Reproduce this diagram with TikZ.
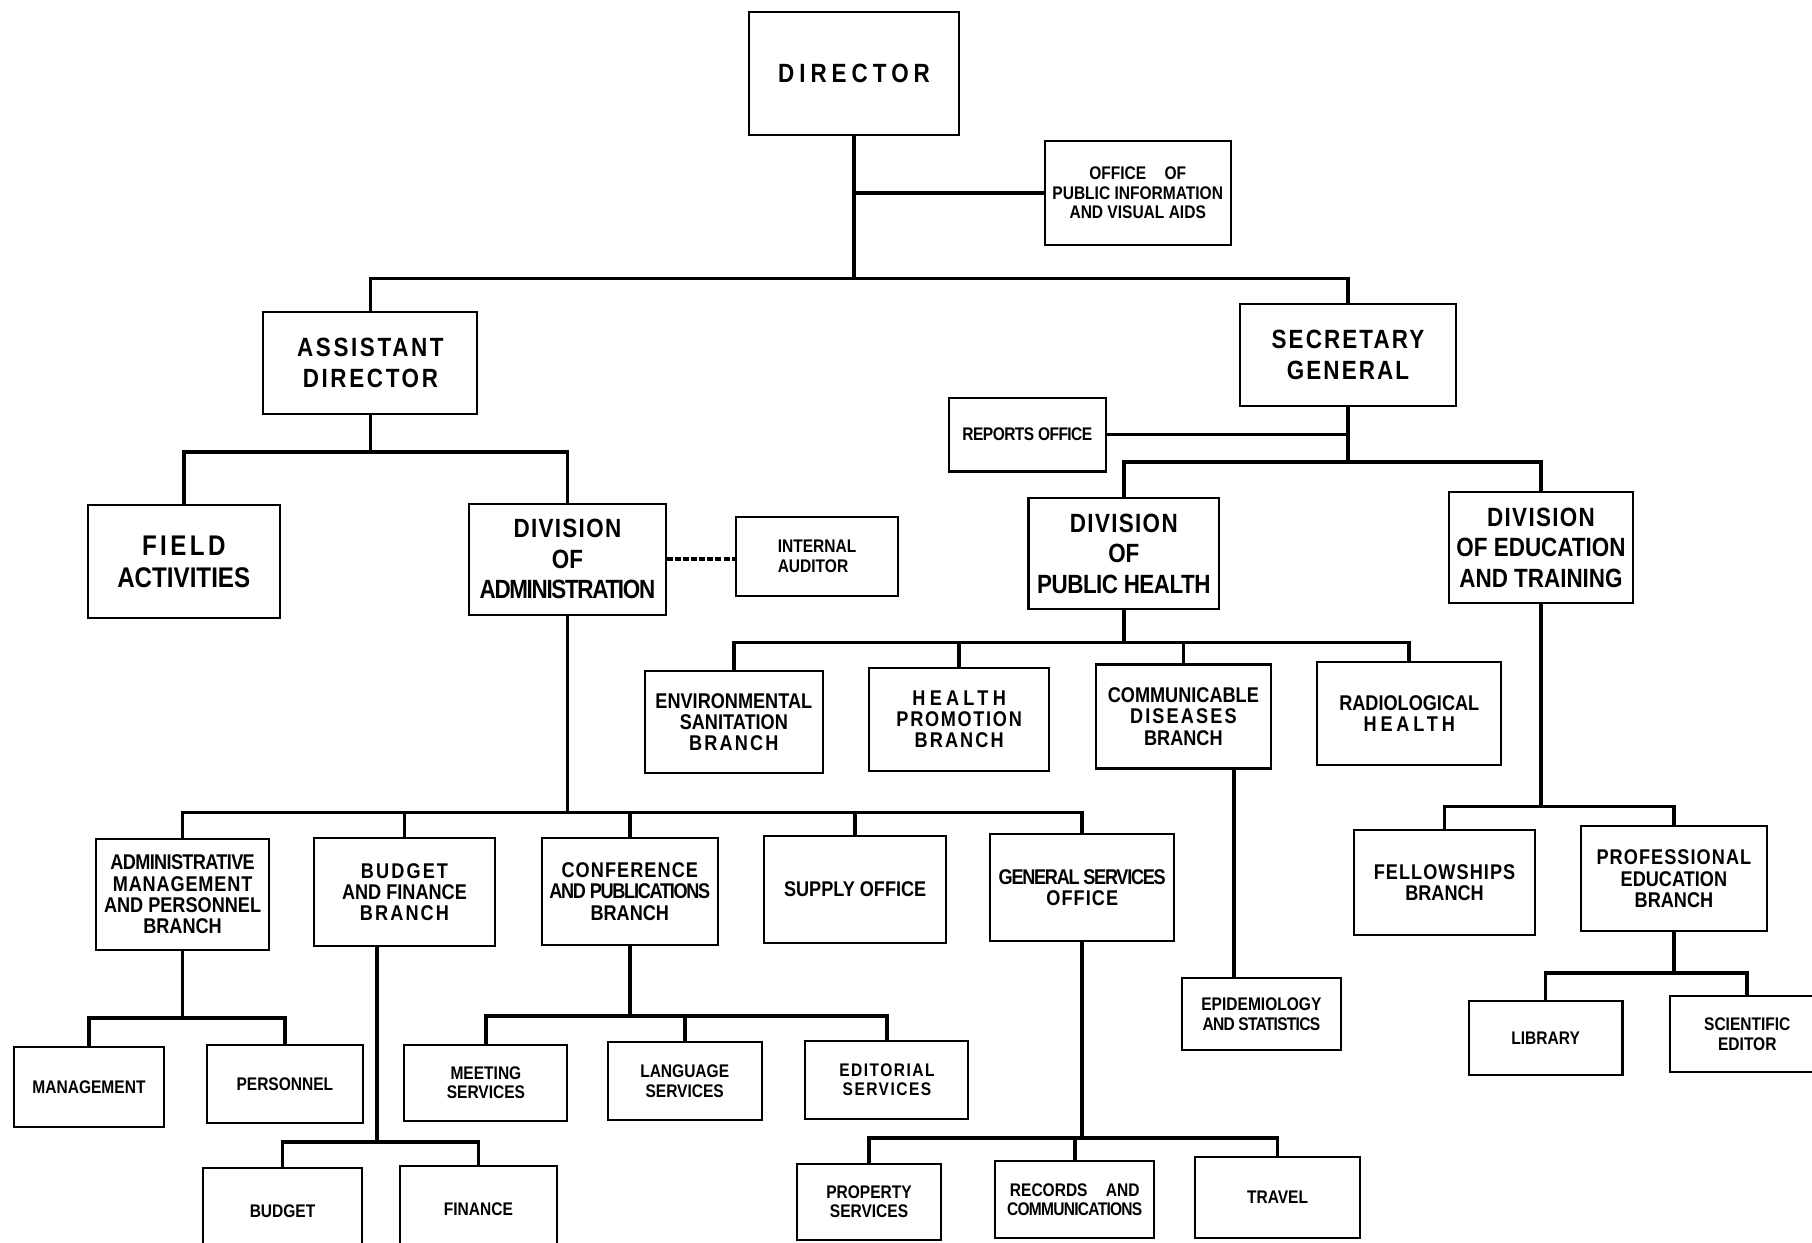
\documentclass[tikz,border=0pt]{standalone}
\usepackage{fontspec}
\newfontfamily\orgfont[FakeStretch=0.85]{Liberation Sans}
\newcommand\bigtxt{\orgfont\bfseries\fontsize{13}{15}\selectfont}
\newcommand\fatxt{\orgfont\bfseries\fontsize{14}{16}\selectfont}
\newcommand\midtxt{\orgfont\bfseries\fontsize{10.5}{10.5}\selectfont}
\newcommand\smalltxt{\orgfont\bfseries\fontsize{9}{9.6}\selectfont}
\newcommand\spc[2][10]{{\addfontfeature{LetterSpace=#1}#2}}
\tikzset{
  box/.style 2 args={draw, line width=1pt, inner sep=0pt, align=center,
    minimum width=#1*0.02cm, minimum height=#2*0.02cm},
  conn/.style={line width=1.8pt}
}
\begin{document}
\begin{tikzpicture}[x=0.02cm,y=-0.02cm]
\useasboundingbox (0,0) rectangle (1568,1075);
\clip (0,0) rectangle (1568,1075);
\node[box={182}{107},font=\bigtxt] (dir) at (739,63.5) {\spc[19]{DIRECTOR}};
\node[box={161}{90},font=\smalltxt,text depth=0pt] (opi) at (984.5,167) {OFFICE\quad OF\\PUBLIC INFORMATION\\AND VISUAL AIDS};
\node[box={185}{88},font=\bigtxt] (ad) at (320.5,314) {\spc{ASSISTANT}\\\spc{DIRECTOR}};
\node[box={187}{88},font=\bigtxt] (sg) at (1166.5,307) {\spc[8]{SECRETARY}\\\spc[8]{GENERAL}};
\node[box={166}{98},font=\fatxt] (fa) at (159,486) {\spc[12]{FIELD}\\ACTIVITIES};
\node[box={170}{96},font=\bigtxt] (da) at (491,484) {\spc[5]{DIVISION}\\OF\\\spc[-5]{ADMINISTRATION}};
\node[box={140}{69},font=\smalltxt,align=left] (ia) at (707,481.5) {INTERNAL\\AUDITOR};
\node[box={136}{64},font=\smalltxt] (ro) at (889,376) {\spc[-3]{REPORTS OFFICE}};
\node[box={165}{96},font=\bigtxt] (dph) at (972.5,479) {\spc[5]{DIVISION}\\OF\\\spc[-2]{PUBLIC HEALTH}};
\node[box={159}{96},font=\bigtxt] (det) at (1333.5,474) {\spc[5]{DIVISION}\\OF EDUCATION\\AND TRAINING};
\node[box={154}{88},font=\midtxt] (es) at (635,625) {ENVIRONMENTAL\\SANITATION\\\spc{BRANCH}};
\node[box={156}{89},font=\midtxt] (hp) at (830,622.5) {\spc[20]{HEALTH}\\\spc[8]{PROMOTION}\\\spc{BRANCH}};
\node[box={152}{90},font=\midtxt] (cd) at (1024,620) {COMMUNICABLE\\\spc{DISEASES}\\BRANCH};
\node[box={159}{89},font=\midtxt] (rh) at (1219.5,617.5) {RADIOLOGICAL\\\spc[18]{HEALTH}};
\node[box={137}{63},font=\smalltxt] (epi) at (1091.5,877.5) {EPIDEMIOLOGY\\\spc[-4]{AND STATISTICS}};
\node[box={156}{91},font=\midtxt] (fb) at (1250,763.5) {\spc[5]{FELLOWSHIPS}\\BRANCH};
\node[box={161}{91},font=\midtxt] (pe) at (1448.5,760.5) {\spc[5]{PROFESSIONAL}\\EDUCATION\\BRANCH};
\node[box={133}{64},font=\smalltxt] (lib) at (1337.5,898) {LIBRARY};
\node[box={134}{66},font=\smalltxt] (se) at (1512,895) {SCIENTIFIC\\EDITOR};
\node[box={150}{96},font=\midtxt] (am) at (158,774) {\spc[-3]{ADMINISTRATIVE}\\\spc[4]{MANAGEMENT}\\AND PERSONNEL\\BRANCH};
\node[box={156}{94},font=\midtxt] (bf) at (350,772) {\spc{BUDGET}\\AND FINANCE\\\spc{BRANCH}};
\node[box={152}{93},font=\midtxt] (cp) at (545,771.5) {\spc[5]{CONFERENCE}\\\spc[-6]{AND PUBLICATIONS}\\BRANCH};
\node[box={158}{93},font=\midtxt] (so) at (740,769.5) {SUPPLY OFFICE};
\node[box={159}{92},font=\midtxt] (gs) at (936.5,768) {\spc[-6]{GENERAL SERVICES}\\\spc[5]{OFFICE}};
\node[box={130}{69},font=\smalltxt] (mg) at (77,940.5) {MANAGEMENT};
\node[box={135}{68},font=\smalltxt] (pr) at (246.5,938) {PERSONNEL};
\node[box={137}{74},font=\smalltxt] (bu) at (244.5,1048) {BUDGET};
\node[box={136}{74},font=\smalltxt] (fi) at (414,1046) {FINANCE};
\node[box={141}{66},font=\smalltxt] (ms) at (420.5,937) {MEETING\\SERVICES};
\node[box={133}{67},font=\smalltxt] (ls) at (592.5,935.5) {LANGUAGE\\SERVICES};
\node[box={141}{67},font=\smalltxt] (ed) at (767.5,934.5) {\spc[8]{EDITORIAL}\\\spc[8]{SERVICES}};
\node[box={124}{66},font=\smalltxt] (ps) at (752,1040) {PROPERTY\\SERVICES};
\node[box={138}{66},font=\smalltxt] (rc) at (930,1038) {RECORDS\quad AND\\\spc[-4]{COMMUNICATIONS}};
\node[box={143}{70},font=\smalltxt] (tr) at (1105.5,1036) {TRAVEL};
\coordinate (dirbus) at (739,241);
\coordinate (adbus) at (320.5,391);
\coordinate (sgbus) at (1166.5,400);
\coordinate (dabus) at (491,703);
\coordinate (dphbus) at (972.5,556);
\coordinate (detbus) at (1333.5,698);
\coordinate (pebus) at (1448.5,842);
\coordinate (ambus) at (158,881);
\coordinate (bfbus) at (326,988);
\coordinate (cpbus) at (545,879);
\coordinate (gsbus) at (936.5,985);
\coordinate (cddrop) at (1068,0);
\draw[conn] (dir.south) -- (dirbus);
\draw[conn] (opi.west) -- (opi.west -| dir.south);
\draw[conn] (ad.north) |- (dirbus) -| (sg.north);
\draw[conn] (ad.south) -- (adbus);
\draw[conn] (fa.north) |- (adbus) -| (da.north);
\draw[conn,dashed,dash pattern=on 3pt off 1pt] (da.east) -- (da.east -| ia.west);
\draw[conn] (sg.south) -- (sgbus);
\draw[conn] (ro.east) -- (ro.east -| sg.south);
\draw[conn] (dph.north) |- (sgbus) -| (det.north);
\draw[conn] (dph.south) -- (dphbus);
\draw[conn] (es.north) |- (dphbus) -| (rh.north);
\foreach \n in {hp,cd} \draw[conn] (\n.north) -- (\n.north |- dphbus);
\draw[conn] (cd.south -| cddrop) -- (epi.north -| cddrop);
\draw[conn] (det.south) -- (detbus);
\draw[conn] (fb.north) |- (detbus) -| (pe.north);
\draw[conn] (pe.south) -- (pebus);
\draw[conn] (lib.north) |- (pebus) -| (se.north);
\draw[conn] (da.south) -- (dabus);
\draw[conn] (am.north) |- (dabus) -| (gs.north);
\foreach \n in {bf,cp,so} \draw[conn] (\n.north) -- (\n.north |- dabus);
\draw[conn] (am.south) -- (ambus);
\draw[conn] (mg.north) |- (ambus) -| (pr.north);
\draw[conn] (bf.south -| bfbus) -- (bfbus);
\draw[conn] (bu.north) |- (bfbus) -| (fi.north);
\draw[conn] (cp.south) -- (cpbus);
\draw[conn] (ms.north) |- (cpbus) -| (ed.north);
\draw[conn] (ls.north) -- (ls.north |- cpbus);
\draw[conn] (gs.south) -- (gsbus);
\draw[conn] (ps.north) |- (gsbus) -| (tr.north);
\draw[conn] (rc.north) -- (rc.north |- gsbus);
\end{tikzpicture}
\end{document}
